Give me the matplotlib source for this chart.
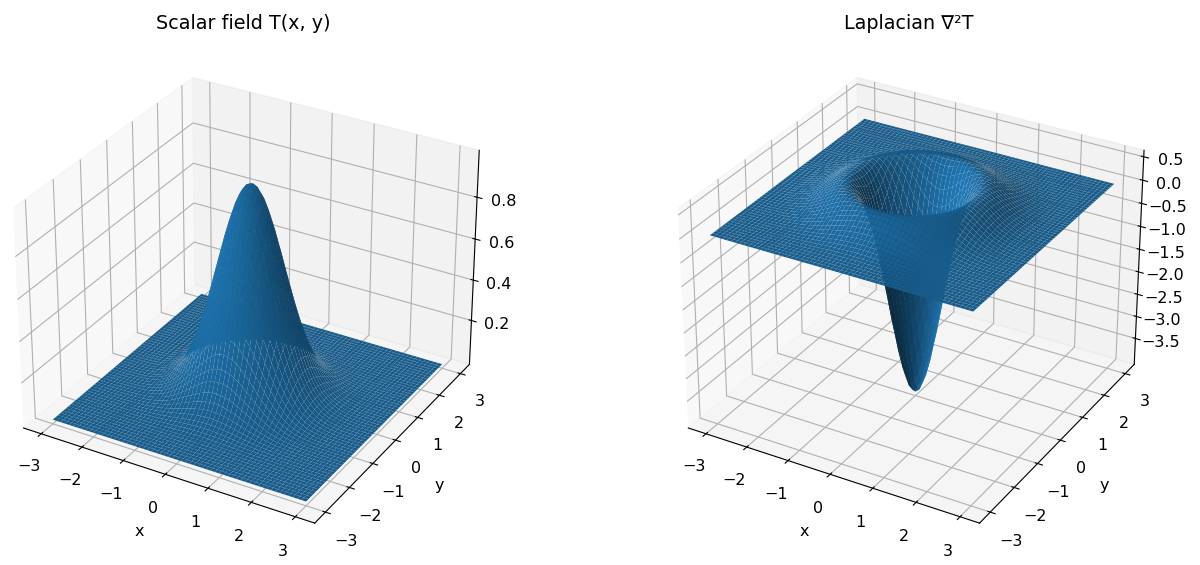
import numpy as np
import matplotlib
matplotlib.use('Agg')
import matplotlib.pyplot as plt

# Profiles along one axis, x = 0 to 3 in steps of 0.1
half_axis = np.arange(31) * 0.1
peak_profile = [1.0, .990, .961, .914, .852, .779, .698, .613, .527, .445, .368,
                .298, .237, .185, .141, .105, .077, .056, .039, .027, .018,
                .012, .008, .005, .003, .002, .001, .0007, .0004, .0002, .0001]
curv_profile = [-2.0, -1.94, -1.768, -1.499, -1.159, -.779, -.391, -.025, .295, .552, .736,
                .846, .891, .881, .823, .735, .634, .535, .427, .336, .252,
                .188, .139, .096, .063, .046, .025, .019, .012, .006, .003]

titles = ['Scalar field T(x, y)', 'Laplacian \u2207\u00b2T']
ticks = [-3, -2, -1, 0, 1, 2, 3]
field_zticks = [0.2, 0.4, 0.6, 0.8]
laplacian_zticks = [-3.5, -3.0, -2.5, -2.0, -1.5, -1.0, -0.5, 0.0, 0.5]

plt.rcParams['font.size'] = 11.5

axis = np.r_[-half_axis[:0:-1], half_axis]
f = np.r_[peak_profile[:0:-1], peak_profile]
g = np.r_[curv_profile[:0:-1], curv_profile]
X, Y = np.meshgrid(axis, axis)
T = np.outer(f, f)
L = np.outer(g, f) + np.outer(f, g)

fig = plt.figure(figsize=(12, 5.65), dpi=100)

ax1 = fig.add_axes([-0.013, -0.005, 0.432, 0.96], projection='3d')
ax1.plot_surface(X, Y, T, rstride=1, cstride=1)
ax1.set_title(titles[0], fontsize=13.8, pad=6)
ax1.set_zticks(field_zticks)

ax2 = fig.add_axes([0.541, -0.005, 0.432, 0.96], projection='3d')
ax2.plot_surface(X, Y, L, rstride=1, cstride=1)
ax2.set_title(titles[1], fontsize=13.8, pad=6)
ax2.set_zticks(laplacian_zticks)

for ax in [ax1, ax2]:
    ax.set_xlabel('x', labelpad=8)
    ax.set_ylabel('y', labelpad=8)
    ax.set_xticks(ticks)
    ax.set_yticks(ticks)
    ax.tick_params(axis='x', pad=5.5)
    ax.tick_params(axis='y', pad=5.5)

fig.savefig('out.png', dpi=100)
